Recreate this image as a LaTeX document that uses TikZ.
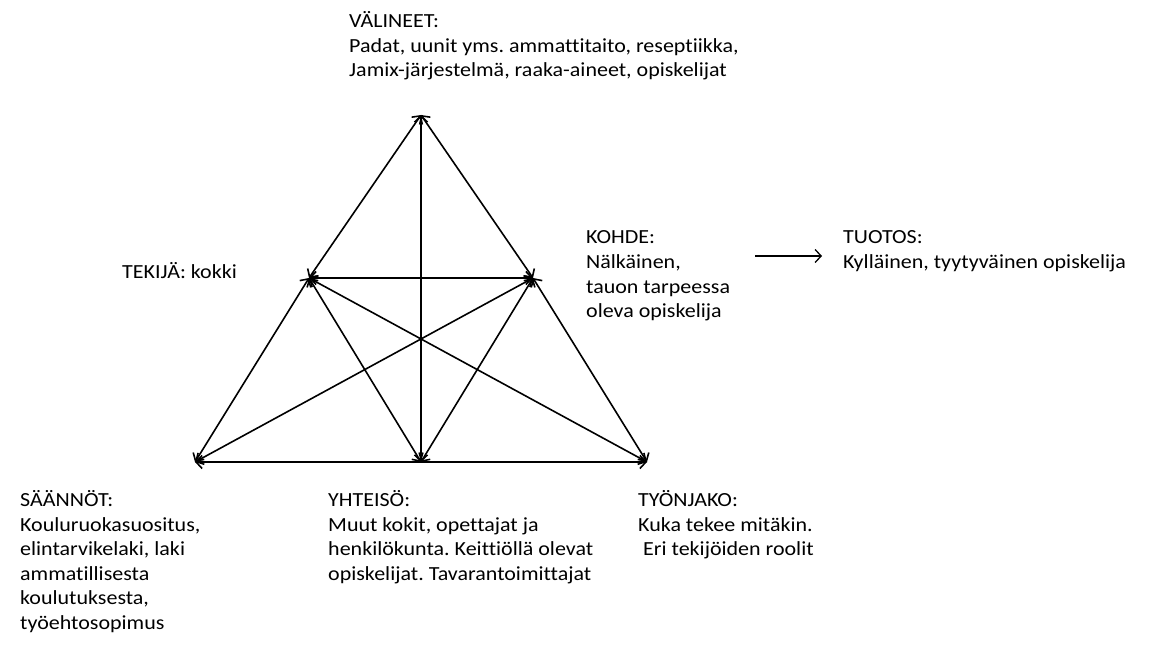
\documentclass[tikz,border=0pt]{standalone}
\usepackage{fontspec}
\setmainfont{Carlito}[FakeStretch=1.1,Ligatures={NoCommon}]
\usetikzlibrary{arrows.meta}
\frenchspacing
\begin{document}
\begin{tikzpicture}[x=1pt,y=-1pt,
  txt/.style={anchor=base west,inner sep=0pt,align=left,
    font=\fontsize{20}{24.6}\selectfont},
  link/.style={line width=1.6pt,black,
    {Straight Barb[length=6pt,width=13pt,line width=1.6pt]}-{Straight Barb[length=6pt,width=13pt,line width=1.6pt]}},
  oneway/.style={line width=1.3pt,black,
    -{Straight Barb[length=6pt,width=13pt,line width=1.3pt]}}]
\useasboundingbox (0,0) rectangle (1152,652);

% corner points of the activity triangle
\coordinate (T)  at (421,115);
\coordinate (L)  at (309,278);
\coordinate (R)  at (533,278);
\coordinate (BL) at (195,462);
\coordinate (BM) at (421,462);
\coordinate (BR) at (647,462);

% links between the elements
\draw[link] (T) -- (L);
\draw[link] (T) -- (R);
\draw[link] (T) -- (BM);
\draw[link] (L) -- (R);
\draw[link] (L) -- (BL);
\draw[link] (R) -- (BR);
\draw[link] (BL) -- (BR);
\draw[link] (L) -- (BM);
\draw[link] (R) -- (BM);
\draw[link] (L) -- (BR);
\draw[link] (R) -- (BL);

% labels (anchored at the baseline of their last line)
\node[txt] (valineet) at (349,76.7) {VÄLINEET:\\Padat, uunit yms. ammattitaito, reseptiikka,\\Jamix-järjestelmä, raaka-aineet, opiskelijat};
\node[txt] (tekija) at (122,279) {TEKIJÄ: kokki};
\node[txt] (kohde) at (586,317.8) {KOHDE:\\Nälkäinen,\\tauon tarpeessa\\oleva opiskelija};
\node[txt] (tuotos) at (843,268.6) {TUOTOS:\\Kylläinen, tyytyväinen opiskelija};
\node[txt] (saannot) at (20,629.5) {SÄÄNNÖT:\\Kouluruokasuositus,\\elintarvikelaki, laki\\ammatillisesta\\koulutuksesta,\\työehtosopimus};
\node[txt] (yhteiso) at (328,580.3) {YHTEISÖ:\\Muut kokit, opettajat ja\\henkilökunta. Keittiöllä olevat\\opiskelijat. Tavarantoimittajat};
\node[txt] (tyonjako) at (638,555.7) {TYÖNJAKO:\\Kuka tekee mitäkin.\\\hspace*{0.25em}Eri tekijöiden roolit};

% from object to outcome
\coordinate (oa) at (755,256);
\coordinate (ob) at (822,256);
\draw[oneway] (oa) -- (ob);
\end{tikzpicture}
\end{document}
